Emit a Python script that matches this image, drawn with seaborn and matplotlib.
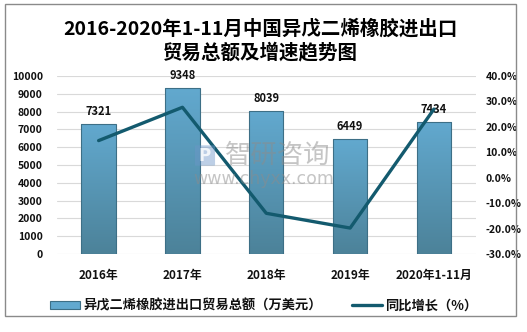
import numpy as np
import pandas as pd
import matplotlib
matplotlib.use("Agg")
import matplotlib.pyplot as plt
import seaborn as sns
from matplotlib.patches import Patch, Rectangle, FancyBboxPatch
from matplotlib.lines import Line2D
from matplotlib.colors import LinearSegmentedColormap

# ---- data ----
categories = ["2016年", "2017年", "2018年", "2019年", "2020年1-11月"]
trade_total = [7321, 9348, 8039, 6449, 7434]          # 万美元
growth_pct = [14.6, 27.7, -14.0, -19.8, 27.0]           # %
left_ticks = list(range(0, 10001, 1000))
right_ticks = [-30, -20, -10, 0, 10, 20, 30, 40]

title = "2016-2020年1-11月中国异戊二烯橡胶进出口\n贸易总额及增速趋势图"
bar_label = "异戊二烯橡胶进出口贸易总额（万美元）"
line_label = "同比增长（%）"

sns.set_theme(style="white")
plt.rcParams["font.family"] = ["Noto Sans CJK SC", "DejaVu Sans"]
plt.rcParams["axes.unicode_minus"] = False

bar_top = "#62a9cf"
bar_bottom = "#4c8299"
bar_edge = "#3d6f86"
line_color = "#135a6e"
text_color = "#111111"

fig = plt.figure(figsize=(5.27, 3.32), dpi=100)
ax = fig.add_axes([0.1076, 0.235, 0.7954, 0.536])

df = pd.DataFrame({"cat": categories, "total": trade_total, "growth": growth_pct})

sns.barplot(data=df, x="cat", y="total", ax=ax, width=0.41, color=bar_top,
            edgecolor=bar_edge, linewidth=0.8, saturation=1, zorder=2)

# vertical gradient fill inside each bar
cmap = LinearSegmentedColormap.from_list("bar_grad", [bar_bottom, bar_top])
grad = np.linspace(0, 1, 256).reshape(-1, 1)
for p in ax.patches:
    x0, y0 = p.get_x(), p.get_y()
    w, h = p.get_width(), p.get_height()
    im = ax.imshow(grad, cmap=cmap, origin="lower", aspect="auto",
                   extent=[x0, x0 + w, y0, y0 + h], zorder=2.5)
    im.set_clip_path(p)
    p.set_facecolor("none")
    p.set_zorder(3)

ax.set_xlim(-0.5, len(categories) - 0.5)
ax.set_ylim(0, 10000)
ax.set_yticks(left_ticks)
ax.set_yticklabels([str(v) for v in left_ticks])
ax.yaxis.grid(True, color="#d9d9d9", linewidth=0.8)
ax.set_axisbelow(True)
ax.set_xlabel("")
ax.set_ylabel("")
for s in ax.spines.values():
    s.set_visible(False)
ax.tick_params(axis="y", length=0, pad=10, labelsize=7.5, labelcolor=text_color)
ax.tick_params(axis="x", length=0, pad=11, labelsize=8.5, labelcolor=text_color)
for lbl in ax.get_yticklabels() + ax.get_xticklabels():
    lbl.set_fontweight("bold")

# value labels above bars
for i, v in enumerate(trade_total):
    ax.annotate(str(v), (i, v), xytext=(0, 9), textcoords="offset points",
                ha="center", va="center", fontsize=8, fontweight="bold",
                color=text_color, zorder=6)

# growth line on secondary axis
ax2 = ax.twinx()
sns.lineplot(x=np.arange(len(categories)), y=growth_pct, ax=ax2,
             color=line_color, linewidth=2.4, zorder=5)
ax2.set_ylim(-30, 40)
ax2.set_yticks(right_ticks)
ax2.set_yticklabels([f"{v:.1f}%" for v in right_ticks])
ax2.grid(False)
for s in ax2.spines.values():
    s.set_visible(False)
ax2.tick_params(axis="y", length=0, pad=7, labelsize=7.5, labelcolor=text_color)
for lbl in ax2.get_yticklabels():
    lbl.set_fontweight("bold")
ax2.set_ylabel("")

# title
fig.text(0.494, 0.878, title, ha="center", va="center", fontsize=14,
         fontweight="bold", color="#000000", linespacing=1.25)

# watermark
fig.text(0.527, 0.533, "智研咨询", ha="center", va="center", fontsize=19,
         color="#8c8c8c", alpha=0.5, zorder=10)
fig.text(0.50, 0.462, "www.chyxx.com", ha="center", va="center", fontsize=12.5,
         family="DejaVu Sans", color="#8c8c8c", alpha=0.5, zorder=10)
fig.patches.append(FancyBboxPatch((196 / 527, 1 - 165 / 332), 18 / 527, 19 / 332,
                                  boxstyle="round,pad=0.002",
                                  transform=fig.transFigure, facecolor="#6d96c8",
                                  edgecolor="none", alpha=0.45, zorder=10))
fig.text(205 / 527, 1 - 155.5 / 332, "P", ha="center", va="center", fontsize=12,
         fontweight="bold", family="DejaVu Sans", color="white", alpha=0.8, zorder=11)

# legend
handles = [Patch(facecolor=bar_top, edgecolor=bar_edge, linewidth=0.8),
           Line2D([0], [0], color=line_color, linewidth=2.4)]
leg = fig.legend(handles, [bar_label, line_label], loc="center",
                 bbox_to_anchor=(0.5, 0.08), ncol=2, frameon=False,
                 fontsize=9.5, handlelength=2.3, handleheight=0.5,
                 columnspacing=2.3, handletextpad=0.2)
for t in leg.get_texts():
    t.set_fontweight("bold")
    t.set_color(text_color)

# outer frame
fig.patches.append(Rectangle((5 / 527, 1 - 316 / 332), 511 / 527, 312 / 332,
                             transform=fig.transFigure, fill=False,
                             edgecolor="#8a8a8a", linewidth=1.0))

fig.savefig("out.png", dpi=100)
